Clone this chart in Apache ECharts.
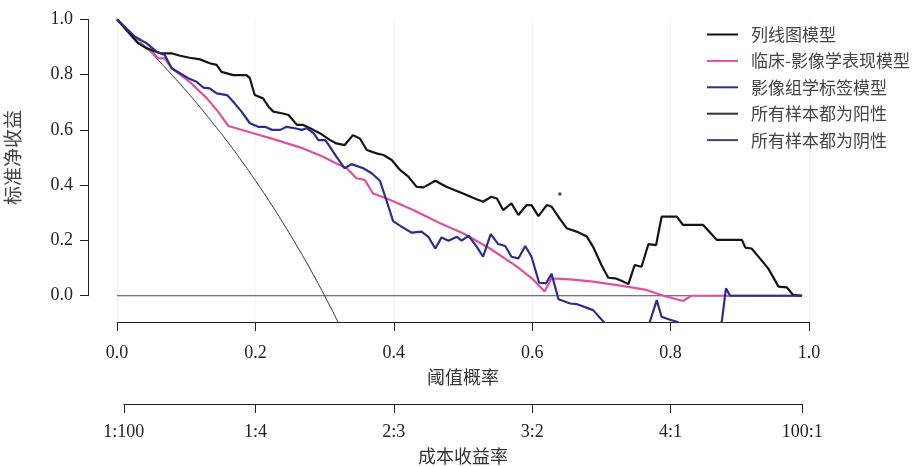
<!DOCTYPE html>
<html>
<head>
<meta charset="utf-8">
<script src="https://cdn.jsdelivr.net/npm/echarts@6/dist/echarts.min.js"></script>
<style>html,body{margin:0;padding:0;background:#fff;}#c{width:914px;height:466px;}</style>
</head>
<body>
<div id="c"></div>
<script>
// ---- data ----
const seriesNames = ['列线图模型', '临床-影像学表现模型', '影像组学标签模型', '所有样本都为阳性', '所有样本都为阴性'];
const yTicks = [0, 0.2, 0.4, 0.6, 0.8, 1.0];
const xTicks = [0, 0.2, 0.4, 0.6, 0.8, 1.0];
const costBenefitTicks = [1/101, 0.2, 0.4, 0.6, 0.8, 100/101];
const costBenefitLabels = ['1:100', '1:4', '2:3', '3:2', '4:1', '100:1'];

const nomogram = [
  [0,1.0],[0.031,0.913],[0.043,0.895],[0.062,0.877],[0.079,0.877],[0.091,0.868],[0.105,0.861],[0.12,0.855],
  [0.134,0.841],[0.144,0.835],[0.151,0.810],[0.168,0.798],[0.187,0.798],[0.192,0.787],[0.199,0.726],[0.211,0.714],
  [0.219,0.684],[0.226,0.666],[0.238,0.660],[0.248,0.654],[0.260,0.618],[0.269,0.618],[0.279,0.606],[0.293,0.588],
  [0.308,0.563],[0.317,0.551],[0.329,0.545],[0.341,0.581],[0.351,0.569],[0.361,0.527],[0.375,0.515],[0.385,0.509],
  [0.397,0.491],[0.409,0.455],[0.421,0.431],[0.433,0.394],[0.443,0.392],[0.460,0.416],[0.476,0.394],[0.500,0.370],
  [0.517,0.352],[0.529,0.340],[0.541,0.358],[0.549,0.352],[0.558,0.310],[0.570,0.334],[0.580,0.292],[0.592,0.328],
  [0.599,0.328],[0.609,0.288],[0.621,0.328],[0.628,0.322],[0.640,0.278],[0.650,0.244],[0.664,0.232],[0.679,0.214],
  [0.688,0.177],[0.700,0.111],[0.710,0.065],[0.720,0.063],[0.729,0.054],[0.739,0.042],[0.748,0.111],[0.758,0.105],
  [0.768,0.187],[0.779,0.183],[0.787,0.286],[0.809,0.286],[0.818,0.256],[0.847,0.256],[0.867,0.202],[0.903,0.202],
  [0.908,0.174],[0.917,0.171],[0.929,0.135],[0.941,0.099],[0.956,0.033],[0.968,0.030],[0.977,0.003],[0.99,0]
];
const nomogramDot = [[0.640, 0.368]];

const clinical = [
  [0,1.0],[0.028,0.919],[0.048,0.889],[0.060,0.859],[0.069,0.859],[0.079,0.823],[0.105,0.774],[0.130,0.714],
  [0.146,0.666],[0.161,0.614],[0.197,0.588],[0.231,0.563],[0.269,0.533],[0.298,0.503],[0.314,0.482],[0.332,0.461],
  [0.346,0.425],[0.358,0.419],[0.370,0.370],[0.390,0.352],[0.428,0.310],[0.467,0.262],[0.500,0.226],[0.539,0.171],
  [0.578,0.105],[0.602,0.057],[0.618,0.015],[0.628,0.063],[0.655,0.059],[0.688,0.051],[0.737,0.033],[0.765,0.021],
  [0.790,0.0],[0.818,-0.019],[0.830,0.0],[0.99,0]
];

const radiomics = [
  [0,1.0],[0.026,0.937],[0.043,0.913],[0.057,0.883],[0.069,0.871],[0.079,0.823],[0.091,0.805],[0.103,0.787],
  [0.115,0.774],[0.125,0.753],[0.134,0.750],[0.144,0.732],[0.159,0.726],[0.168,0.702],[0.180,0.666],[0.192,0.624],
  [0.204,0.611],[0.214,0.611],[0.224,0.600],[0.236,0.600],[0.245,0.611],[0.257,0.606],[0.267,0.600],[0.274,0.606],
  [0.284,0.588],[0.291,0.563],[0.301,0.563],[0.310,0.530],[0.317,0.503],[0.329,0.461],[0.339,0.476],[0.356,0.461],
  [0.368,0.443],[0.380,0.416],[0.390,0.340],[0.399,0.270],[0.411,0.250],[0.426,0.228],[0.440,0.232],[0.450,0.213],
  [0.460,0.171],[0.469,0.211],[0.479,0.199],[0.491,0.213],[0.498,0.199],[0.508,0.217],[0.520,0.177],[0.529,0.141],
  [0.540,0.223],[0.551,0.187],[0.561,0.180],[0.570,0.141],[0.580,0.135],[0.590,0.180],[0.599,0.141],[0.610,0.047],
  [0.620,0.045],[0.628,0.079],[0.638,-0.013],[0.655,-0.028],[0.664,-0.030],[0.688,-0.052],[0.703,-0.094],
  [0.72,-0.14],[0.745,-0.16],[0.762,-0.13],[0.770,-0.094],[0.780,-0.016],[0.787,-0.076],[0.797,-0.085],[0.809,-0.094],
  [0.83,-0.13],[0.855,-0.14],[0.874,-0.094],[0.880,0.027],[0.886,0.0],[0.99,0]
];

const treatAll = [
  [0,1.0],[0.02,0.952],[0.04,0.903],[0.06,0.851],[0.08,0.797],[0.10,0.741],[0.12,0.682],[0.14,0.620],[0.16,0.556],
  [0.18,0.488],[0.20,0.417],[0.22,0.342],[0.24,0.263],[0.26,0.180],[0.28,0.093],[0.30,0.0],[0.32,-0.098],[0.33,-0.149]
];
const treatNone = [[0,0],[0.99,0]];

// ---- chart ----
const SERIF = '"Liberation Serif", "Noto Sans CJK SC", serif';
const CJK = '"Noto Sans CJK SC", sans-serif';
const chart = echarts.init(document.getElementById('c'), null, {renderer: 'canvas'});
const colors = ['#141414', '#e0509b', '#2b2e8c', '#333333', '#4a3f70'];

chart.setOption({
  animation: false,
  color: colors,
  grid: [
    {left: 117, top: 19.3, width: 692, height: 302.7},
    {left: 123.85, top: 300, width: 678.3, height: 104},
    {left: 88, top: 19.3, width: 1, height: 276.4}
  ],
  legend: {
    orient: 'vertical', left: 701, top: 21, itemWidth: 31, itemHeight: 16, itemGap: 9.4,
    data: seriesNames,
    itemStyle: {opacity: 0},
    textStyle: {fontFamily: CJK, fontSize: 17, color: '#444', padding: [0, 0, 0, 8]}
  },
  xAxis: [
    {
      type: 'value', gridIndex: 0, min: 0, max: 1, interval: 0.2,
      name: '阈值概率', nameLocation: 'middle', nameGap: 46,
      nameTextStyle: {fontFamily: CJK, fontSize: 18, color: '#333'},
      axisLine: {show: true, onZero: false, lineStyle: {color: '#222', width: 1}},
      axisTick: {show: true, length: 9, lineStyle: {color: '#222'}},
      axisLabel: {margin: 22, fontFamily: SERIF, fontSize: 18, color: '#222', formatter: v => v.toFixed(1)},
      splitLine: {show: true, lineStyle: {color: '#f4f4f4', width: 1}}
    },
    {
      type: 'value', gridIndex: 1, min: costBenefitTicks[0], max: costBenefitTicks[5],
      name: '成本收益率', nameLocation: 'middle', nameGap: 43,
      nameTextStyle: {fontFamily: CJK, fontSize: 18, color: '#333'},
      axisLine: {show: true, onZero: false, lineStyle: {color: '#222', width: 1}},
      axisTick: {show: true, length: 9, customValues: costBenefitTicks, lineStyle: {color: '#222'}},
      axisLabel: {margin: 19, fontFamily: SERIF, fontSize: 18, color: '#222', customValues: costBenefitTicks,
        formatter: v => { const i = costBenefitTicks.findIndex(t => Math.abs(t - v) < 1e-6); return i >= 0 ? costBenefitLabels[i] : ''; }},
      splitLine: {show: false}
    },
    {
      type: 'value', gridIndex: 2, min: 0, max: 1, show: false
    }
  ],
  yAxis: [
    {
      type: 'value', gridIndex: 0, min: -0.095, max: 1.0,
      axisLine: {show: false}, axisTick: {show: false}, axisLabel: {show: false},
      splitLine: {show: false}
    },
    {type: 'value', gridIndex: 1, min: 0, max: 1, show: false},
    {
      type: 'value', gridIndex: 2, min: 0, max: 1, interval: 0.2,
      name: '标准净收益', nameLocation: 'middle', nameGap: 66, nameRotate: 90,
      nameTextStyle: {fontFamily: CJK, fontSize: 19, color: '#444'},
      axisLine: {show: true, lineStyle: {color: '#222', width: 1}},
      axisTick: {show: true, length: 8, lineStyle: {color: '#222'}},
      axisLabel: {margin: 15, fontFamily: SERIF, fontSize: 18, color: '#222', formatter: v => v.toFixed(1)},
      splitLine: {show: false}
    }
  ],
  series: [
    {name: seriesNames[0], type: 'line', data: nomogram, symbol: 'none', xAxisIndex: 0, yAxisIndex: 0,
     lineStyle: {width: 2.2, color: colors[0]}, z: 5},
    {name: seriesNames[1], type: 'line', data: clinical, symbol: 'none', xAxisIndex: 0, yAxisIndex: 0,
     lineStyle: {width: 2.2, color: colors[1]}, z: 4},
    {name: seriesNames[2], type: 'line', data: radiomics, symbol: 'none', xAxisIndex: 0, yAxisIndex: 0,
     lineStyle: {width: 2.2, color: colors[2]}, z: 6},
    {name: seriesNames[3], type: 'line', data: treatAll, symbol: 'none', smooth: true, xAxisIndex: 0, yAxisIndex: 0,
     lineStyle: {width: 1, color: colors[3]}, z: 3},
    {name: seriesNames[4], type: 'line', data: treatNone, symbol: 'none', xAxisIndex: 0, yAxisIndex: 0,
     lineStyle: {width: 1.2, color: colors[4]}, z: 3},
    {name: 'dot', type: 'scatter', data: nomogramDot, symbolSize: 3.5, xAxisIndex: 0, yAxisIndex: 0,
     itemStyle: {color: colors[0]}, z: 5}
  ]
});
</script>
</body>
</html>
